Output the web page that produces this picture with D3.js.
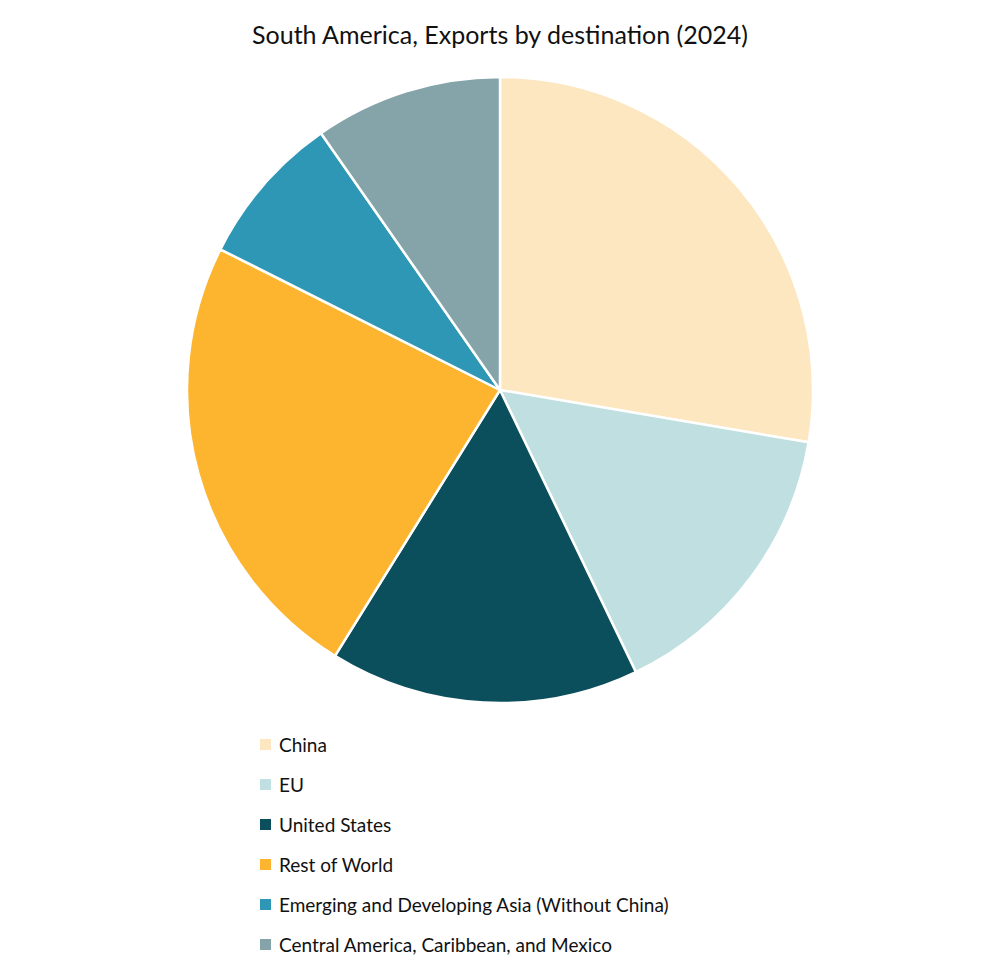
<!DOCTYPE html>
<html><head><meta charset="utf-8">
<script src="https://cdn.jsdelivr.net/npm/d3@7"></script>
<style>body{margin:0;background:#fff;}</style>
</head><body>
<svg id="c" width="1000" height="975"></svg>
<script>
const categories = ["China","EU","United States","Rest of World","Emerging and Developing Asia (Without China)","Central America, Caribbean, and Mexico"];
const values = [27.7,15.2,16.0,23.6,7.9,9.7];
const colors = ["#fde7c0","#bfdfe0","#0c4f5c","#fdb42f","#2e97b5","#84a4aa"];
const title = "South America, Exports by destination (2024)";

const svg = d3.select("#c");
const font = "Lato, 'Open Sans', sans-serif";
svg.append("text").attr("x",500).attr("y",44).attr("text-anchor","middle")
  .attr("font-family",font).attr("font-size",25).attr("fill","#111").text(title);

const pie = d3.pie().sort(null).value(d=>d)(values);
const arc = d3.arc().innerRadius(0).outerRadius(313);
const g = svg.append("g").attr("transform","translate(500,390)");
g.selectAll("path").data(pie).join("path").attr("d",arc)
  .attr("fill",(d,i)=>colors[i]).attr("stroke","#fff").attr("stroke-width",2.5);

const y = d3.scalePoint().domain(categories).range([745,945]);
const lg = svg.append("g");
categories.forEach((c,i)=>{
  lg.append("rect").attr("x",260).attr("y",y(c)-6).attr("width",11).attr("height",11).attr("fill",colors[i]);
  lg.append("text").attr("x",279).attr("y",y(c)).attr("dy","0.35em")
    .attr("font-family",font).attr("font-size",19).attr("fill","#111").text(c);
});
</script>
</body></html>
